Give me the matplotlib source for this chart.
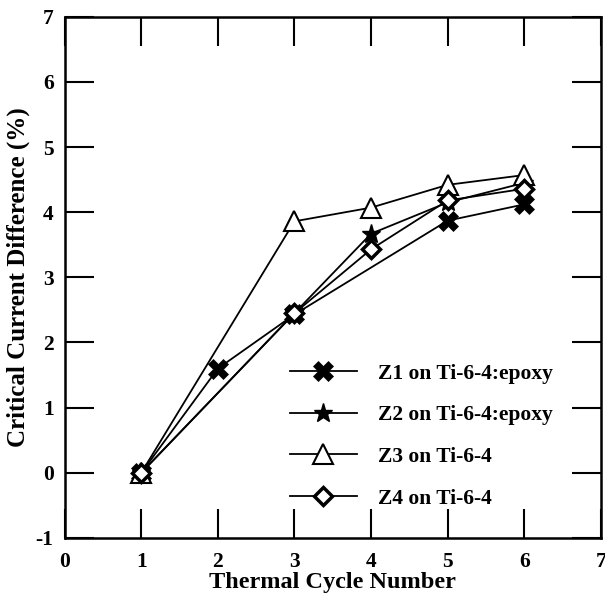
import matplotlib
matplotlib.use("Agg")
import matplotlib.pyplot as plt

# thermal cycle data
cycles_z1 = [1, 2, 3, 5, 6]
z1 = [0.0, 1.60, 2.43, 3.87, 4.12]
cycles_rest = [1, 3, 4, 5, 6]
z2 = [0.0, 2.45, 3.67, 4.15, 4.45]
z3 = [0.0, 3.86, 4.07, 4.42, 4.57]
z4 = [0.0, 2.45, 3.43, 4.18, 4.36]
labels = ["Z1 on Ti-6-4:epoxy", "Z2 on Ti-6-4:epoxy", "Z3 on Ti-6-4", "Z4 on Ti-6-4"]

plt.rcParams['font.family'] = ['Liberation Serif', 'DejaVu Serif']
plt.rcParams['font.weight'] = 'bold'
plt.rcParams['axes.unicode_minus'] = False

fig = plt.figure(figsize=(6.05, 5.99), dpi=100)
ax = fig.add_axes([0.107, 0.102, 0.886, 0.870])

lw = 1.3
ax.plot(cycles_z1, z1, color='black', lw=lw, marker='X', ms=15, mfc='black', mec='black', mew=0.5, label=labels[0])
ax.plot(cycles_rest, z2, color='black', lw=lw, marker='*', ms=14, mfc='black', mec='black', label=labels[1])
ax.plot(cycles_rest, z3, color='black', lw=lw, marker='^', ms=14, mfc='white', mec='black', mew=1.5, label=labels[2])
ax.plot(cycles_rest, z4, color='black', lw=lw, marker='D', ms=9, mfc='white', mec='black', mew=2.5, label=labels[3])

ax.set_xlim(0, 7)
ax.set_ylim(-1, 7)
ax.set_xticks(range(0, 8))
ax.set_yticks(range(-1, 8))
ax.tick_params(direction='in', length=21, width=1.5, top=True, right=True, labelsize=15.5)
ax.tick_params(axis='x', pad=10)
ax.tick_params(axis='y', pad=8)
for s in ax.spines.values():
    s.set_linewidth(1.8)

ax.set_xlabel("Thermal Cycle Number", fontsize=17.5, fontweight='bold', labelpad=0)
ax.set_ylabel("Critical Current Difference (%)", fontsize=18, fontweight='bold', labelpad=4)

ax.legend(loc='upper left', bbox_to_anchor=(0.40, 0.355), frameon=False,
          handlelength=3.1, labelspacing=1.0, borderpad=0, handletextpad=1.0, numpoints=1,
          prop={'weight': 'bold', 'size': 15.5})

fig.savefig("out.png", dpi=100)
